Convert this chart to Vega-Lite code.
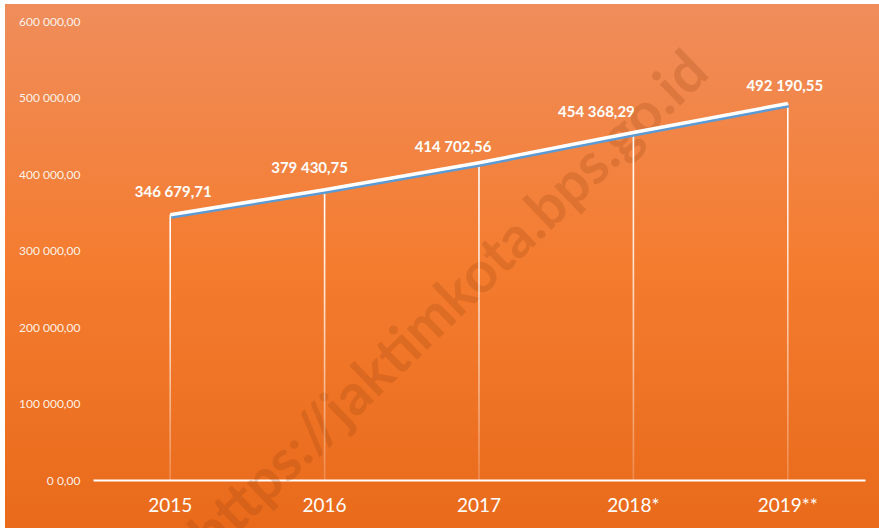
{
  "$schema": "https://vega.github.io/schema/vega-lite/v6.json",
  "width": 874,
  "height": 524,
  "autosize": {"type": "none"},
  "padding": {"left": 5, "top": 4, "right": 0, "bottom": 0},
  "background": "#ffffff",
  "config": {
    "view": {
      "stroke": null,
      "fill": {
        "gradient": "linear",
        "x1": 0, "y1": 0, "x2": 0, "y2": 1,
        "stops": [
          {"offset": 0, "color": "#F08D5B"},
          {"offset": 0.5, "color": "#F47C2F"},
          {"offset": 1, "color": "#E96A1B"}
        ]
      }
    },
    "font": "Lato"
  },
  "data": {
    "values": [
      {"year": "2015", "value": 346679.71, "label": "346 679,71"},
      {"year": "2016", "value": 379430.75, "label": "379 430,75"},
      {"year": "2017", "value": 414702.56, "label": "414 702,56"},
      {"year": "2018*", "value": 454368.29, "label": "454 368,29"},
      {"year": "2019**", "value": 492190.55, "label": "492 190,55"}
    ]
  },
  "encoding": {
    "x": {
      "field": "year",
      "type": "nominal",
      "sort": null,
      "scale": {"type": "band", "domain": ["2015", "2016", "2017", "2018*", "2019**"], "range": [88, 860], "paddingInner": 0, "paddingOuter": 0},
      "axis": {
        "title": null,
        "orient": "bottom",
        "offset": -48,
        "domainColor": "#ffffff",
        "domainWidth": 2,
        "ticks": false,
        "labelAngle": 0,
        "labelColor": "#ffffff",
        "labelFontSize": 19,
        "labelFont": "Lato",
        "labelPadding": 16,
        "grid": false
      }
    },
    "y": {
      "field": "value",
      "type": "quantitative",
      "scale": {"domain": [0, 600000], "range": [476, 17], "nice": false, "zero": true},
      "axis": {
        "title": null,
        "orient": "left",
        "offset": -75,
        "values": [0, 100000, 200000, 300000, 400000, 500000, 600000],
        "labelExpr": "datum.value == 0 ? '0 0,00' : replace(replace(format(datum.value, ',.2f'), regexp(',', 'g'), ' '), '.', ',')",
        "domain": false,
        "ticks": false,
        "grid": false,
        "labelPadding": 0,
        "labelColor": "#ffffff",
        "labelOpacity": 0.92,
        "labelFontSize": 12,
        "labelFont": "Lato"
      }
    }
  },
  "layer": [
    {
      "transform": [{"filter": "datum.year == '2017'"}],
      "mark": {"type": "text", "font": "Lato", "fontWeight": "bold", "fontSize": 57, "angle": 316, "align": "center", "baseline": "middle", "fill": "#8a3a08", "fillOpacity": 0.2, "dx": -40},
      "encoding": {
        "x": {"datum": "2017"},
        "y": {"datum": 266667},
        "text": {"value": "https://jaktimkota.bps.go.id"}
      }
    },
    {
      "mark": {
        "type": "bar",
        "size": 1.6,
        "fill": {
          "gradient": "linear",
          "x1": 0, "y1": 0, "x2": 0, "y2": 1,
          "stops": [
            {"offset": 0, "color": "rgba(255,255,255,1)"},
            {"offset": 0.35, "color": "rgba(255,255,255,0.8)"},
            {"offset": 1, "color": "rgba(255,255,255,0.2)"}
          ]
        }
      }
    },
    {
      "mark": {"type": "line", "stroke": "#5B9BD5", "strokeWidth": 3, "yOffset": 2.5, "xOffset": 1}
    },
    {
      "mark": {"type": "line", "stroke": "#ffffff", "strokeWidth": 3.5}
    },
    {
      "transform": [{"filter": "datum.year == '2015'"}],
      "mark": {"type": "text", "fontWeight": "bold", "fontSize": 15, "fill": "#ffffff", "baseline": "middle", "dx": 3, "dy": -23},
      "encoding": {"text": {"field": "label"}}
    },
    {
      "transform": [{"filter": "datum.year == '2016'"}],
      "mark": {"type": "text", "fontWeight": "bold", "fontSize": 15, "fill": "#ffffff", "baseline": "middle", "dx": -15, "dy": -22},
      "encoding": {"text": {"field": "label"}}
    },
    {
      "transform": [{"filter": "datum.year == '2017'"}],
      "mark": {"type": "text", "fontWeight": "bold", "fontSize": 15, "fill": "#ffffff", "baseline": "middle", "dx": -26, "dy": -16},
      "encoding": {"text": {"field": "label"}}
    },
    {
      "transform": [{"filter": "datum.year == '2018*'"}],
      "mark": {"type": "text", "fontWeight": "bold", "fontSize": 15, "fill": "#ffffff", "baseline": "middle", "dx": -37, "dy": -20},
      "encoding": {"text": {"field": "label"}}
    },
    {
      "transform": [{"filter": "datum.year == '2019**'"}],
      "mark": {"type": "text", "fontWeight": "bold", "fontSize": 15, "fill": "#ffffff", "baseline": "middle", "dx": -3, "dy": -17},
      "encoding": {"text": {"field": "label"}}
    }
  ]
}
